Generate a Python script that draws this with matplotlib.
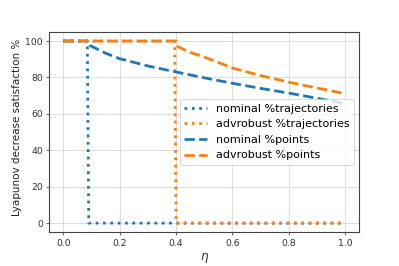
import matplotlib
matplotlib.use("Agg")
import matplotlib.pyplot as plt

# data
eta_nom_traj = [0.0, 0.085, 0.09, 1.0]
nom_traj = [100, 100, 0, 0]
eta_adv_traj = [0.0, 0.395, 0.40, 1.0]
adv_traj = [100, 100, 0, 0]

eta_nom_pts = [0.0, 0.09, 0.095, 0.15, 0.2, 0.3, 0.4, 0.5, 0.6, 0.7, 0.8, 0.9, 1.0]
nom_pts = [100, 100, 97.5, 93.3, 90.3, 86.3, 83.0, 79.8, 76.8, 74.0, 71.4, 68.6, 65.7]
eta_adv_pts = [0.0, 0.40, 0.405, 0.45, 0.5, 0.6, 0.7, 0.8, 0.9, 1.0]
adv_pts = [100, 100, 97.0, 93.8, 91.2, 85.2, 81.0, 77.4, 74.2, 71.1]

DPI = 66.5
fig = plt.figure(figsize=(399 / DPI, 266 / DPI), dpi=DPI)
ax = fig.add_axes([0.1236, 0.127, 0.9 - 0.1236, 0.88 - 0.127])

blue = "#1f77b4"
orange = "#ff7f0e"
ax.plot(eta_nom_traj, nom_traj, ":", color=blue, lw=3, label="nominal %trajectories")
ax.plot(eta_adv_traj, adv_traj, ":", color=orange, lw=3, label="advrobust %trajectories")
ax.plot(eta_nom_pts, nom_pts, "--", color=blue, lw=3, label="nominal %points")
ax.plot(eta_adv_pts, adv_pts, "--", color=orange, lw=3, label="advrobust %points")

ax.set_xlim(-0.05, 1.05)
ax.set_ylim(-5, 105)
ax.set_xticks([0.0, 0.2, 0.4, 0.6, 0.8, 1.0])
ax.set_yticks([0, 20, 40, 60, 80, 100])
ax.grid(True, color="#dddddd", lw=1.2)
ax.set_axisbelow(True)
for s in ax.spines.values():
    s.set_color("#444444")
    s.set_linewidth(1.2)
ax.tick_params(colors="#333333", labelsize=10, labelcolor="#333333")
ax.set_xlabel(r"$\eta$", fontsize=13, color="#333333")
ax.set_ylabel("Lyapunov decrease satisfaction %", fontsize=11.2, color="#222222")
ax.yaxis.set_label_coords(-0.088, 0.522)
leg = ax.legend(loc="center right", fontsize=12, handlelength=2.0)
leg.get_frame().set_edgecolor("#cccccc")

fig.savefig("out.png", dpi=DPI)
